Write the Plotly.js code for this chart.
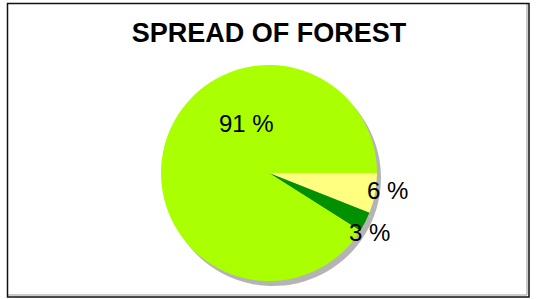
<!DOCTYPE html>
<html>
<head>
<meta charset="utf-8">
<script src="https://cdn.plot.ly/plotly-3.0.1.min.js"></script>
<style>html,body{margin:0;padding:0;background:#fff;}#chart{width:540px;height:299px;}</style>
</head>
<body>
<div id="chart"></div>
<script>
const categories = ["Sparse forest", "Dense forest", "Other land"];
const values = [6, 3, 91];
const colors = ["#FFFF80", "#009000", "#AAFF00"];
const titleText = "SPREAD OF FOREST";

const W = 540, H = 299;
const cx = 269, cy = 173, r = 108;
const px = v => v / W, py = v => 1 - v / H;

const main = {
  type: "pie", labels: categories, values: values, sort: false,
  direction: "clockwise", rotation: 90,
  marker: {colors: colors, line: {width: 0}},
  textinfo: "none", hoverinfo: "skip", showlegend: false,
  domain: {x: [px(cx - r), px(cx + r)], y: [py(cy + r), py(cy - r)]}
};
const sdx = 4, sdy = 5;
const shadow = {
  type: "pie", labels: categories, values: values, sort: false,
  direction: "clockwise", rotation: 90,
  marker: {colors: values.map(() => "#b4b4b4"), line: {width: 0}},
  textinfo: "none", hoverinfo: "skip", showlegend: false,
  domain: {x: [px(cx - r + sdx), px(cx + r + sdx)], y: [py(cy + r + sdy), py(cy - r + sdy)]}
};

const labelPos = [[387, 190.5], [369, 232], [246.5, 124]];
const annotations = values.map((v, i) => ({
  xref: "paper", yref: "paper", x: px(labelPos[i][0]), y: py(labelPos[i][1]),
  xanchor: "center", yanchor: "middle", showarrow: false,
  text: v + " %", font: {family: "Liberation Sans, Arial, sans-serif", size: 24, color: "#000"}
}));

const layout = {
  width: W, height: H, margin: {l: 0, r: 0, t: 0, b: 0},
  paper_bgcolor: "#fff", plot_bgcolor: "#fff",
  title: {text: "<b>" + titleText + "</b>", x: px(269), xanchor: "center", y: py(33), yanchor: "middle",
    font: {family: "Liberation Sans, Arial, sans-serif", size: 27, color: "#000"}},
  annotations: annotations,
  shapes: [
    {type: "line", xref: "paper", yref: "paper", x0: px(527), x1: px(527), y0: py(4), y1: py(295), line: {color: "#bbb", width: 1.5}},
    {type: "line", xref: "paper", yref: "paper", x0: px(8), x1: px(527), y0: py(295), y1: py(295), line: {color: "#bbb", width: 1.5}},
    {type: "rect", xref: "paper", yref: "paper", x0: px(7.5), x1: px(529), y0: py(3.5), y1: py(297), line: {color: "#111", width: 1.5}}
  ]
};

Plotly.newPlot("chart", [shadow, main], layout, {displayModeBar: false, staticPlot: true});
</script>
</body>
</html>
